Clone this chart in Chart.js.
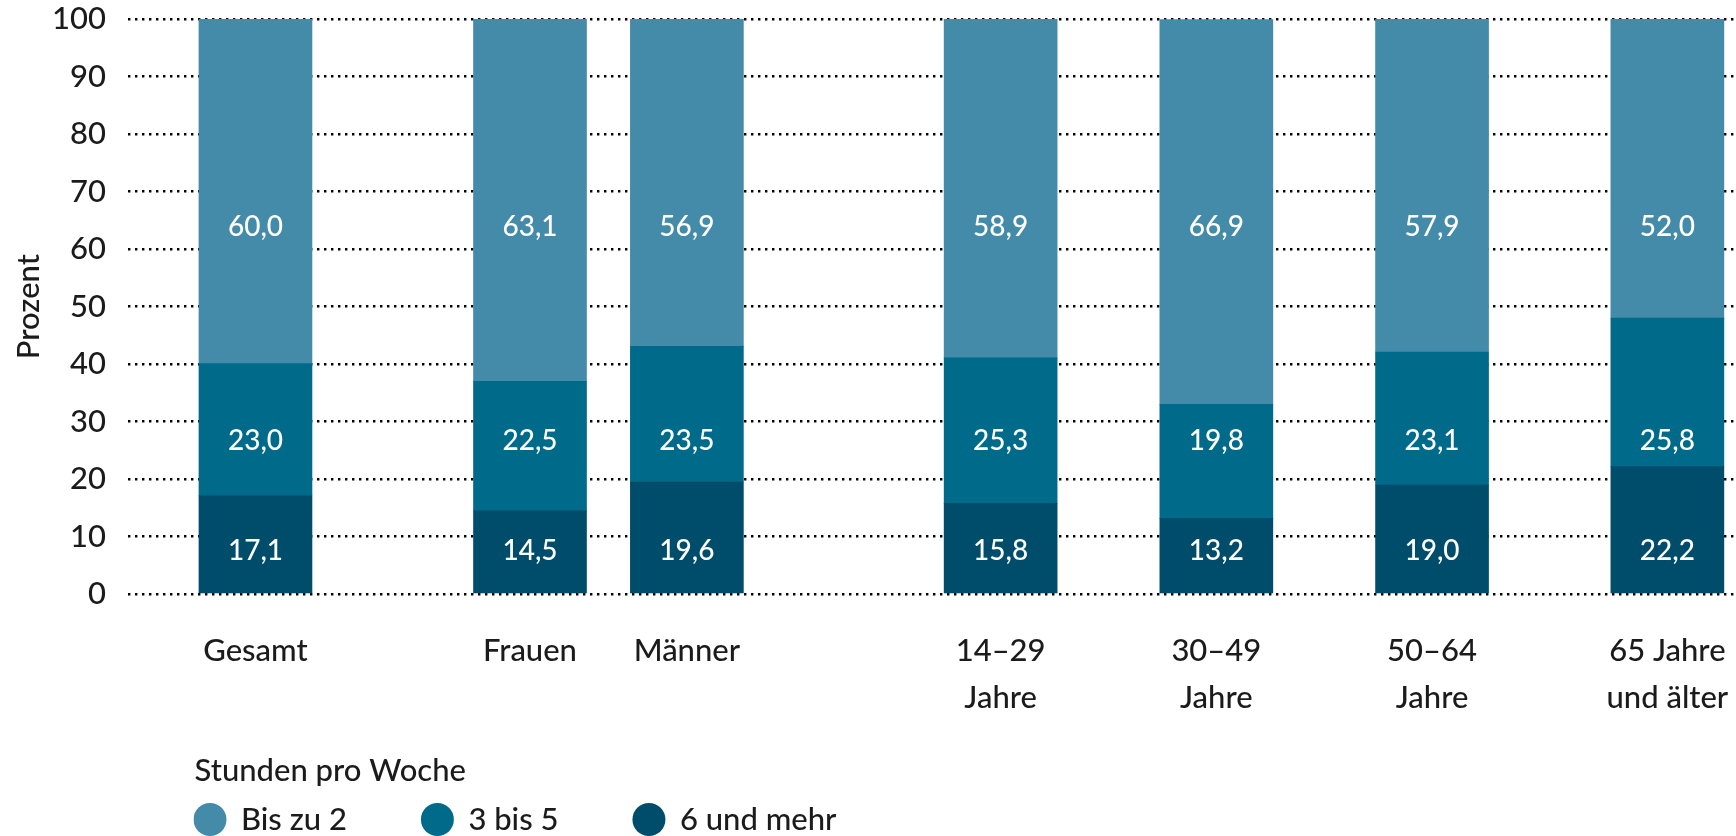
<!DOCTYPE html>
<html lang="de">
<head>
<meta charset="utf-8">
<title>Stunden pro Woche</title>
<script src="https://cdn.jsdelivr.net/npm/chart.js@4.4.1/dist/chart.umd.min.js"></script>
<style>
  html, body { margin: 0; padding: 0; background: #fff; overflow: hidden; }
  #wrap { position: relative; width: 1736px; height: 845px; }
</style>
</head>
<body>
<div id="wrap"><canvas id="myChart"></canvas></div>
<script>
// Daten (Prozent)
const categories = [['Gesamt'], ['Frauen'], ['Männer'], ['14–29', 'Jahre'], ['30–49', 'Jahre'], ['50–64', 'Jahre'], ['65 Jahre', 'und älter']];
const seriesNames = ['Bis zu 2', '3 bis 5', '6 und mehr'];
const bisZu2 = [60.0, 63.1, 56.9, 58.9, 66.9, 57.9, 52.0];
const dreiBis5 = [23.0, 22.5, 23.5, 25.3, 19.8, 23.1, 25.8];
const sechsUndMehr = [17.1, 14.5, 19.6, 15.8, 13.2, 19.0, 22.2];
const yTicks = [0, 10, 20, 30, 40, 50, 60, 70, 80, 90, 100];
const legendTitle = 'Stunden pro Woche';
const axisTitle = 'Prozent';

// layout: narrow slots so the gaps between the groups come out right
const slotCount = 82;
const slotOf = [6, 20, 28, 44, 55, 66, 78];
const colors = ['#004D6B', '#006A8B', '#438BA9'];
const textColor = '#1b1b1b';

function spread(values, empty) {
    const out = new Array(slotCount).fill(empty);
    values.forEach((v, i) => { out[slotOf[i]] = v; });
    return out;
}

Chart.defaults.font.family = 'Lato';
Chart.defaults.font.weight = 500;
Chart.defaults.color = textColor;

// value labels sit at fixed heights inside the bars
const valueLabels = {
    id: 'valueLabels',
    afterDatasetsDraw(chart, args, opts) {
        const ctx = chart.ctx;
        const y = chart.scales.y;
        ctx.save();
        ctx.font = '500 28px Lato';
        ctx.fillStyle = '#ffffff';
        ctx.textAlign = 'center';
        ctx.textBaseline = 'middle';
        chart.data.datasets.forEach((ds, d) => {
            const meta = chart.getDatasetMeta(d);
            const yPix = y.getPixelForValue(opts.levels[d]);
            meta.data.forEach((bar, i) => {
                const v = ds.data[i];
                if (v == null) return;
                ctx.fillText(v.toFixed(1).replace('.', ','), bar.x, yPix);
            });
        });
        ctx.restore();
    }
};

// move legend so title and first item start under the first bar
const legendShift = {
    id: 'legendShift',
    afterLayout(chart, args, opts) {
        const lg = chart.legend;
        if (!lg || !lg.lineWidths) return;
        const w = Math.max(...lg.lineWidths) + 1;
        lg.left = opts.left;
        lg.right = opts.left + w;
        lg.width = w;
    }
};

const ctx = document.getElementById('myChart').getContext('2d');
const graphData = {
    type: 'bar',
    data: {
        labels: spread(categories, ''),
        datasets: [
            { label: seriesNames[2], data: spread(sechsUndMehr, null), backgroundColor: colors[0] },
            { label: seriesNames[1], data: spread(dreiBis5, null), backgroundColor: colors[1] },
            { label: seriesNames[0], data: spread(bisZu2, null), backgroundColor: colors[2] }
        ]
    },
    options: {
        responsive: true,
        maintainAspectRatio: false,
        animation: false,
        layout: { padding: { top: 19, right: 0, bottom: 0, left: 0 } },
        datasets: { bar: { barThickness: 113, borderWidth: 0 } },
        scales: {
            x: {
                stacked: true,
                grid: { display: false },
                border: { display: false },
                ticks: {
                    autoSkip: false,
                    maxRotation: 0,
                    minRotation: 0,
                    padding: 25,
                    color: textColor,
                    font: { size: 31, lineHeight: '47px' }
                },
                afterFit(scale) {
                    scale.height = 161.5;
                    scale.paddingLeft = 0;
                    scale.paddingRight = 0;
                }
            },
            y: {
                stacked: true,
                min: 0,
                max: 100,
                afterBuildTicks(scale) { scale.ticks = yTicks.map(v => ({ value: v })); },
                grid: { color: '#000000', lineWidth: 2.6, drawTicks: false },
                border: { display: false, dash: [2.4, 4.6] },
                ticks: { padding: 22, color: textColor, font: { size: 31 } },
                title: {
                    display: true,
                    text: axisTitle,
                    color: textColor,
                    font: { size: 31 },
                    padding: { top: 10, bottom: 0 }
                },
                afterFit(scale) {
                    scale.width = 128;
                    scale.paddingTop = 10;
                    scale.paddingBottom = 10;
                }
            }
        },
        plugins: {
            tooltip: { enabled: false },
            legend: {
                position: 'bottom',
                align: 'end',
                fullSize: false,
                reverse: true,
                title: {
                    display: true,
                    position: 'start',
                    text: legendTitle,
                    color: textColor,
                    font: { size: 31 },
                    padding: { top: 0, bottom: -64 }
                },
                labels: {
                    usePointStyle: true,
                    pointStyle: 'circle',
                    boxWidth: 31,
                    boxHeight: 23.3,
                    padding: 75,
                    color: textColor,
                    font: { size: 31 }
                }
            },
            valueLabels: { levels: [7.5, 26.6, 63.8] },
            legendShift: { left: 193.5 }
        }
    },
    plugins: [valueLabels, legendShift]
};
const myChart = new Chart(ctx, graphData);
</script>
</body>
</html>
